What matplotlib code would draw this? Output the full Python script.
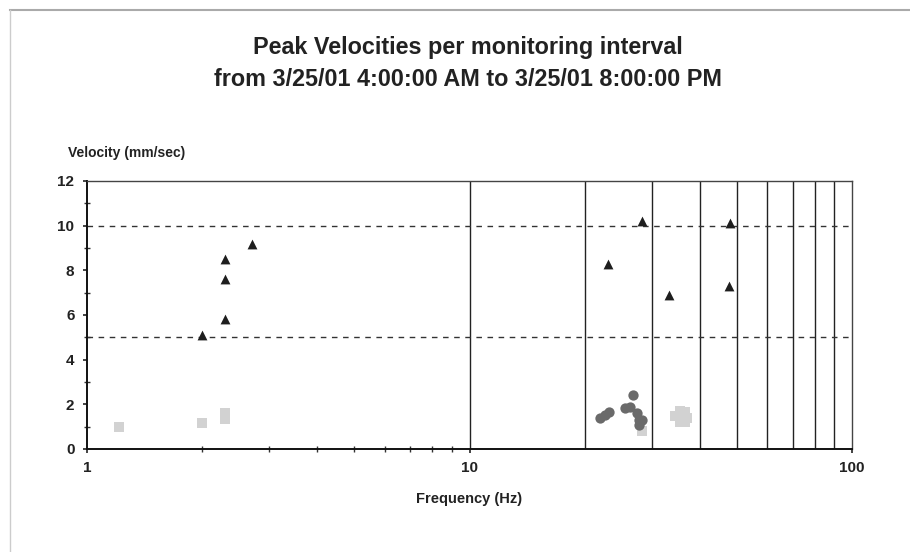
import matplotlib
matplotlib.use("Agg")
import matplotlib.pyplot as plt
from matplotlib.lines import Line2D
import numpy as np

plt.rcParams['font.family'] = ['Liberation Sans', 'DejaVu Sans']

# Data
tri_freq = [2.0, 2.3, 2.3, 2.3, 2.7, 23.0, 28.2, 33.3, 47.6, 48.0]
tri_vel = [5.1, 8.5, 7.6, 5.8, 9.2, 8.3, 10.2, 6.9, 7.3, 10.1]

circ_freq = [21.9, 22.6, 23.2, 25.5, 26.3, 26.8, 27.4, 27.7, 28.2, 27.7]
circ_vel = [1.37, 1.52, 1.67, 1.82, 1.9, 2.4, 1.6, 1.3, 1.3, 1.07]

sq_freq = [1.21, 2.0, 2.3, 2.3, 28.2, 34.5, 35.5, 36.5, 37.0, 35.5, 36.5]
sq_vel = [1.0, 1.15, 1.35, 1.6, 0.8, 1.5, 1.7, 1.65, 1.4, 1.2, 1.2]

limit_lines = [5, 10]
grid_freqs = [10, 20, 30, 40, 50, 60, 70, 80, 90]
y_ticks = [0, 2, 4, 6, 8, 10, 12]
x_ticks = [1, 10, 100]
x_ticklabels = ['1', '10', '100']

fig = plt.figure(figsize=(9.1, 5.52), dpi=100)
ax = fig.add_axes([87/910, 1-449/552, (852-87)/910, (449-181)/552])

ax.set_xscale('log')
ax.set_xlim(1, 100)
ax.set_ylim(0, 12)

for g in grid_freqs:
    ax.axvline(g, color='#222222', lw=1.0, zorder=1)
for h in limit_lines:
    ax.axhline(h, color='#333333', lw=1.0, ls=(0, (4, 4)), zorder=1)

ax.scatter(sq_freq, sq_vel, marker='s', s=60, color='#d2d2d2', zorder=3, linewidths=0)
ax.scatter(circ_freq, circ_vel, marker='o', s=55, color='#6a6a6a', zorder=4, linewidths=0)
ax.scatter(tri_freq, tri_vel, marker='^', s=50, color='#1e1e1e', zorder=5, linewidths=0)

ax.set_yticks(y_ticks)
ax.set_yticks(np.arange(0, 13, 1), minor=True)
ax.set_xticks(x_ticks)
ax.set_xticklabels(x_ticklabels)
ax.set_xticks([2, 3, 4, 5, 6, 7, 8, 9], minor=True)
ax.xaxis.set_minor_formatter(matplotlib.ticker.NullFormatter())

ax.tick_params(axis='both', which='major', direction='out', length=3, width=1.2,
               labelsize=11, colors='#222222', pad=6)
ax.tick_params(axis='both', which='minor', direction='inout', length=4, width=1.0, colors='#333333')
for lab in ax.get_xticklabels() + ax.get_yticklabels():
    lab.set_fontweight('bold')

for s in ['top', 'right']:
    ax.spines[s].set_color('#444444')
    ax.spines[s].set_linewidth(1.0)
for s in ['left', 'bottom']:
    ax.spines[s].set_color('#111111')
    ax.spines[s].set_linewidth(1.4)

ax.set_xlabel('Frequency (Hz)', fontsize=10.5, fontweight='bold', color='#222222', labelpad=12)
fig.text(68/910, 1-153/552, 'Velocity (mm/sec)', fontsize=10, fontweight='bold',
         color='#222222', ha='left', va='center')

fig.text(0.514, 1-48/552, 'Peak Velocities per monitoring interval', fontsize=16.8,
         fontweight='bold', color='#222222', ha='center', va='center')
fig.text(0.514, 1-79/552, 'from 3/25/01 4:00:00 AM to 3/25/01 8:00:00 PM', fontsize=16.8,
         fontweight='bold', color='#222222', ha='center', va='center')

# outer frame lines (top and left)
fig.add_artist(Line2D([10/910, 1], [1-10/552, 1-10/552], transform=fig.transFigure,
                      color='#aaaaaa', lw=1.5))
fig.add_artist(Line2D([10/910, 10/910], [0, 1-10/552], transform=fig.transFigure,
                      color='#cccccc', lw=1.0))

fig.savefig('out.png', dpi=100)
